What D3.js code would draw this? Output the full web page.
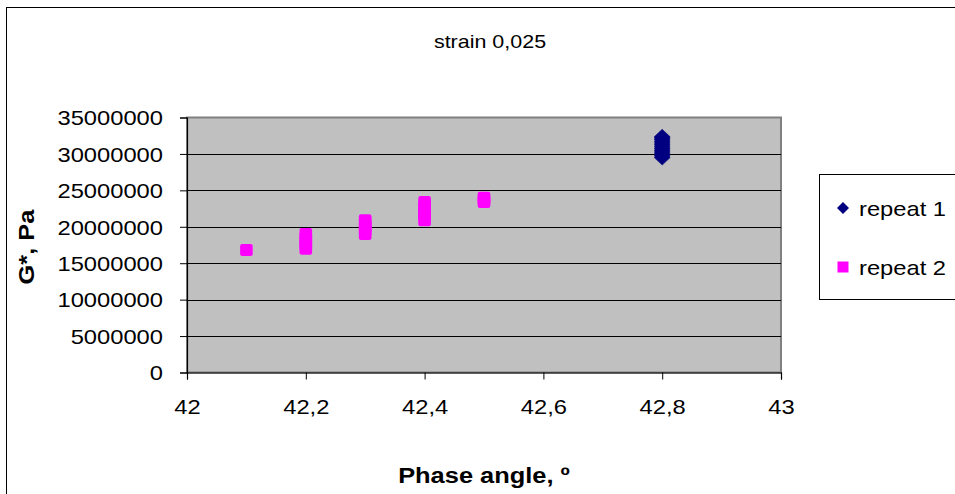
<!DOCTYPE html>
<html>
<head>
<meta charset="utf-8">
<script src="https://cdn.jsdelivr.net/npm/d3@7"></script>
<style>
  html, body { margin: 0; padding: 0; background: #fff; }
  svg { display: block; font-family: "Liberation Sans", Arial, sans-serif; }
</style>
</head>
<body>
<svg id="chart" width="955" height="494"></svg>
<script>
// ---- data ----
const chartTitle = "strain 0,025";
const xTitle = "Phase angle, º";
const yTitle = "G*, Pa";
const seriesNames = ["repeat 1", "repeat 2"];
const xTickValues = [42, 42.2, 42.4, 42.6, 42.8, 43];
const yTickValues = [0, 5000000, 10000000, 15000000, 20000000, 25000000, 30000000, 35000000];

const repeat1X = [42.8, 42.8, 42.8, 42.8, 42.8, 42.8, 42.8, 42.8, 42.8, 42.8, 42.8, 42.8, 42.8];
const repeat1Y = [29500000, 29750000, 30000000, 30250000, 30500000, 30750000, 31000000,
                  31250000, 31500000, 31750000, 32000000, 32200000, 32350000];

const repeat2X = [42.1,
                  42.2, 42.2, 42.2, 42.2, 42.2,
                  42.3, 42.3, 42.3, 42.3, 42.3,
                  42.4, 42.4, 42.4, 42.4, 42.4, 42.4,
                  42.5, 42.5, 42.5];
const repeat2Y = [16800000,
                  17000000, 17500000, 18000000, 18500000, 19000000,
                  19000000, 19500000, 20000000, 20500000, 20900000,
                  20900000, 21400000, 21900000, 22400000, 22900000, 23400000,
                  23400000, 23700000, 24000000];

// ---- drawing ----
const svg = d3.select("#chart");
const SX = 1.13; // horizontal text stretch of reference rendering

function stretchText(sel) {
  sel.each(function () {
    const t = d3.select(this);
    const x = +t.attr("x") || 0, y = +t.attr("y") || 0;
    const prev = t.attr("transform") || "";
    t.attr("x", 0).attr("y", 0)
     .attr("transform", prev + ` translate(${x},${y}) scale(${SX},1)`);
  });
}

const plot = { left: 187, right: 781, top: 117.5, bottom: 372.5 };
const x = d3.scaleLinear().domain([42, 43]).range([plot.left, plot.right]);
const y = d3.scaleLinear().domain([0, 35000000]).range([plot.bottom, plot.top]);

// outer chart border
svg.append("rect").attr("x", 6.5).attr("y", 7.5).attr("width", 1000).attr("height", 1000)
  .attr("fill", "#fff").attr("stroke", "#000").attr("stroke-width", 1);

// plot background
svg.append("rect").attr("x", plot.left).attr("y", plot.top)
  .attr("width", plot.right - plot.left).attr("height", plot.bottom - plot.top)
  .attr("fill", "#c0c0c0").attr("stroke", "#808080").attr("stroke-width", 2);

// gridlines
svg.append("g").selectAll("line").data(yTickValues.filter(v => v > 0 && v < 35000000)).join("line")
  .attr("x1", plot.left).attr("x2", plot.right)
  .attr("y1", d => Math.round(y(d)) + 0.5).attr("y2", d => Math.round(y(d)) + 0.5)
  .attr("stroke", "#000").attr("stroke-width", 1);

// axes
const fmtX = d => String(d).replace(".", ",");
const xAxis = svg.append("g").attr("transform", `translate(0,${plot.bottom})`)
  .call(d3.axisBottom(x).tickValues(xTickValues).tickFormat(fmtX).tickSize(7).tickPadding(20));
const yAxis = svg.append("g").attr("transform", `translate(${plot.left},0)`)
  .call(d3.axisLeft(y).tickValues(yTickValues).tickFormat(d3.format("d")).tickSize(7).tickPadding(17));

[xAxis, yAxis].forEach(a => {
  a.select(".domain").attr("stroke", "#000").attr("stroke-width", 1.2);
  a.selectAll(".tick line").attr("stroke", "#000");
  a.selectAll(".tick text").attr("fill", "#000").attr("font-size", 21)
    .attr("font-family", "'Liberation Sans', Arial, sans-serif");
});
xAxis.selectAll(".tick text").attr("dy", "0.71em");
yAxis.selectAll(".tick text").attr("dy", "0.35em");
xAxis.selectAll(".tick text").each(function () {
  const t = d3.select(this);
  const yy = +t.attr("y");
  t.attr("y", null).attr("transform", `translate(0,${yy}) scale(${SX},1)`);
});
yAxis.selectAll(".tick text").each(function () {
  const t = d3.select(this);
  const xx = +t.attr("x");
  t.attr("x", null).attr("transform", `translate(${xx},0) scale(${SX},1)`);
});

// marks
const r1 = d3.zip(repeat1X, repeat1Y);
const r2 = d3.zip(repeat2X, repeat2Y);

svg.append("g").selectAll("rect").data(r2).join("rect")
  .attr("x", d => x(d[0]) - 6.3).attr("y", d => y(d[1]) - 6)
  .attr("width", 12.6).attr("height", 12).attr("rx", 2)
  .attr("fill", "#ff00ff");

svg.append("g").selectAll("path").data(r1).join("path")
  .attr("d", "M0,-7.5L8,0L0,7.5L-8,0Z")
  .attr("transform", d => `translate(${x(d[0])},${y(d[1])})`)
  .attr("fill", "#000080").attr("stroke", "#000080").attr("stroke-width", 0.5);

// titles
svg.append("text").attr("x", 490).attr("y", 48).attr("text-anchor", "middle")
  .attr("font-size", 19).attr("fill", "#000").text(chartTitle).call(stretchText);

svg.append("text").attr("x", (plot.left + plot.right) / 2).attr("y", 483).attr("text-anchor", "middle")
  .attr("font-size", 22.5).attr("font-weight", "bold").attr("fill", "#000").text(xTitle).call(stretchText);

svg.append("text").attr("transform", `translate(34,${(plot.top + plot.bottom) / 2 + 2}) rotate(-90)`)
  .attr("text-anchor", "middle").attr("font-size", 22.5).attr("font-weight", "bold").attr("fill", "#000")
  .text(yTitle).call(stretchText);

// legend
const lg = svg.append("g");
lg.append("rect").attr("x", 819.5).attr("y", 174.5).attr("width", 200).attr("height", 125)
  .attr("fill", "#fff").attr("stroke", "#000");
const legendY = [208, 267];
lg.append("path").attr("d", "M0,-6L6,0L0,6L-6,0Z").attr("transform", `translate(843,${legendY[0]})`)
  .attr("fill", "#000080");
lg.append("rect").attr("x", 843 - 5.5).attr("y", legendY[1] - 5.5).attr("width", 11).attr("height", 11)
  .attr("fill", "#ff00ff");
seriesNames.forEach((n, i) => {
  lg.append("text").attr("x", 859).attr("y", legendY[i] + 7.5).attr("font-size", 21)
    .attr("fill", "#000").text(n).call(stretchText);
});
</script>
</body>
</html>
